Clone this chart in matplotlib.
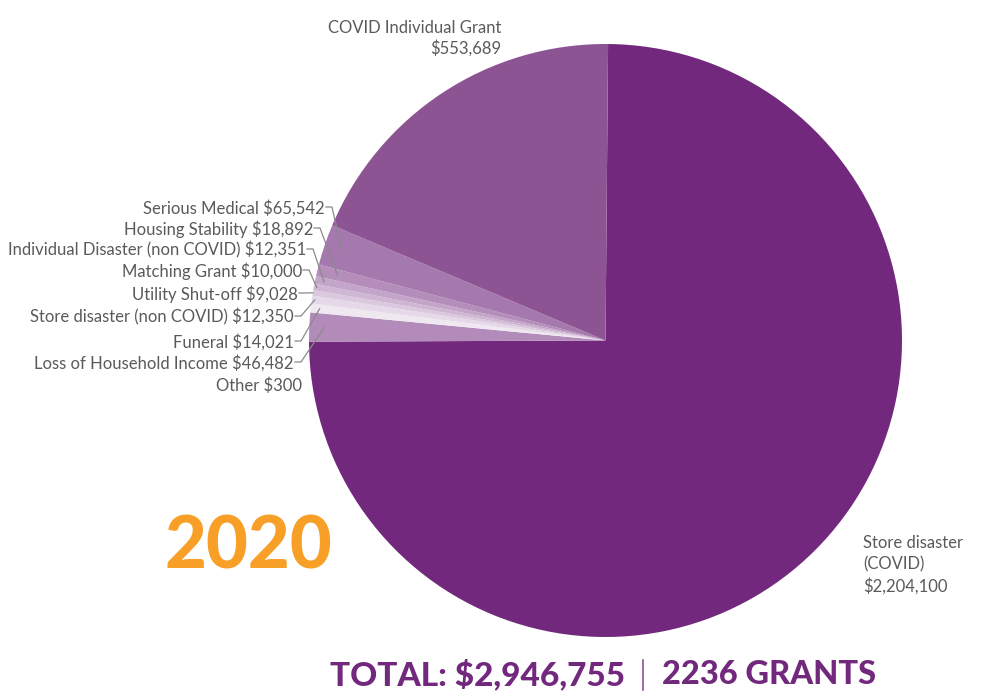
import matplotlib.pyplot as plt
import numpy as np

W, H = 990, 694

# ---- data ----
labels = ["Store disaster\n(COVID)", "Loss of Household Income", "Other", "Funeral",
          "Store disaster (non COVID)", "Utility Shut-off", "Matching Grant",
          "Individual Disaster (non COVID)", "Housing Stability", "Serious Medical",
          "COVID Individual Grant"]
amounts = [2204100, 46482, 300, 14021, 12350, 9028, 10000, 12351, 18892, 65542, 553689]
colors = ["#72287c", "#b28bbb", "#ffffff", "#f0e8f1", "#e5d8e8", "#dac8de", "#cfb7d4",
          "#c3a5c9", "#b48dbb", "#a579ad", "#8d5494"]
total_label = "TOTAL: $2,946,755"
grants_label = "2236 GRANTS"
year = "2020"

# left-side label layout (pixel coords: right edge x, centre y, anchor radius fraction)
side_idx = [9, 8, 7, 6, 5, 4, 3, 1, 2]
side_x = [325, 313, 306, 302, 298, 294, 294, 294, 302]
side_y = [207, 228, 249, 270, 293, 316, 341, 362, 385]
side_r = [0.94, 0.93, 0.97, 0.99, 1.0, 0.99, 0.97, 0.95, None]

CX, CY, R = 605.5, 340.5, 296.5
START = 89.5

plt.rcParams["font.family"] = ["Lato", "DejaVu Sans"]

fig = plt.figure(figsize=(W / 100, H / 100), dpi=100)
ax = fig.add_axes([0, 0, 1, 1])


def py(y):
    return H - y


ax.pie(amounts, colors=colors, startangle=START, counterclock=False,
       center=(CX, py(CY)), radius=R, frame=True,
       wedgeprops=dict(linewidth=0))
ax.set_xlim(0, W)
ax.set_ylim(0, H)
ax.axis("off")
ax.set_aspect("equal")

# wedge mid angles
fr = np.array(amounts) / sum(amounts)
ends = START - np.cumsum(fr) * 360
starts = ends + fr * 360
mids = np.deg2rad((starts + ends) / 2)

fmt = lambda v: "${:,}".format(v)
grey = "#5a5a5a"
line_c = "#8a8a8a"

for i, xr, yc, rf in zip(side_idx, side_x, side_y, side_r):
    ax.text(xr, py(yc + 1), f"{labels[i]} {fmt(amounts[i])}", ha="right", va="center",
            fontsize=12, color=grey)
    if rf is None:
        continue
    ax_ = CX + rf * R * np.cos(mids[i])
    ay_ = py(CY) + rf * R * np.sin(mids[i])
    ax.plot([xr + 1, xr + 7, ax_], [py(yc), py(yc), ay_], color=line_c, lw=0.9,
            solid_joinstyle="miter")

ax.text(501, py(38.5), f"{labels[10]}\n{fmt(amounts[10])}", ha="right", va="center",
        fontsize=12, color=grey, linespacing=1.3)
ax.text(863, py(564.5), f"{labels[0]}\n{fmt(amounts[0])}", ha="left", va="center",
        fontsize=12, color=grey, linespacing=1.38)

ax.text(248, py(548), year, ha="center", va="center", fontsize=52,
        color="#f79f27", fontweight="black")

ax.text(625, py(674), total_label, ha="right", va="center", fontsize=24,
        color="#72287c", fontweight="black")
ax.plot([643, 643], [py(660), py(690)], color="#8d5494", lw=1.2)
ax.text(662, py(674), grants_label, ha="left", va="center", fontsize=23.5,
        color="#72287c", fontweight="black")

fig.savefig("out.png", dpi=100)
